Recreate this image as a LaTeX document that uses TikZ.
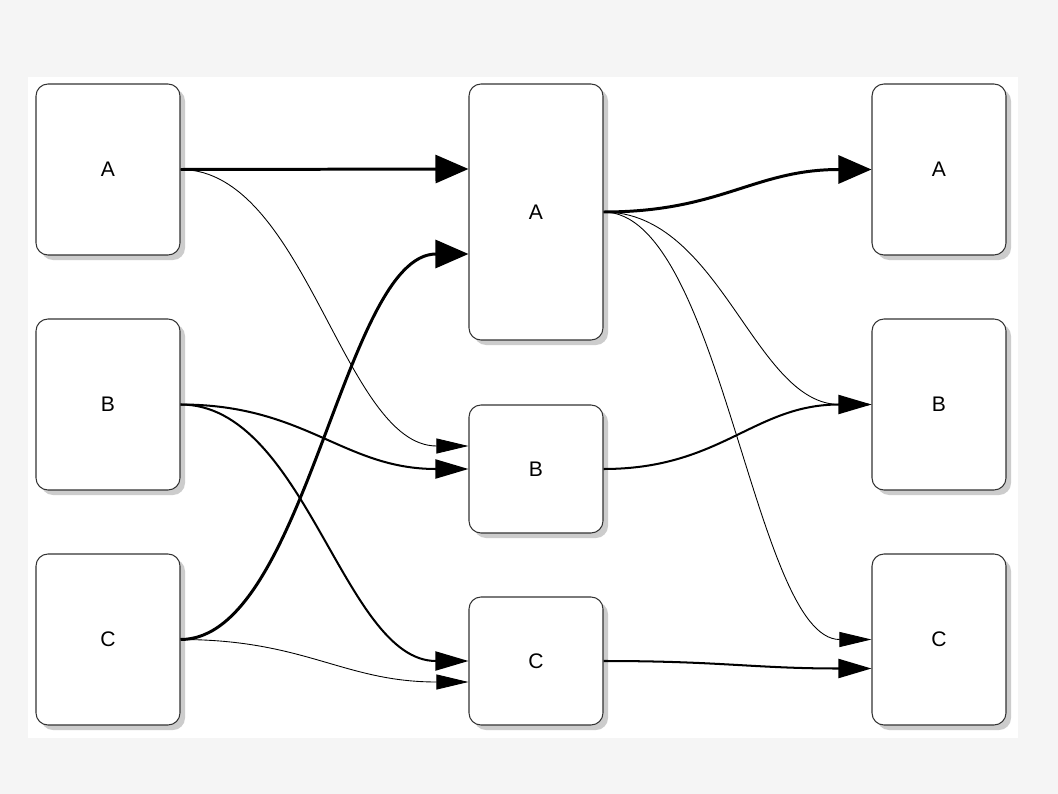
\documentclass[tikz,border=0pt]{standalone}
\usepackage{fontspec}
\setmainfont{Liberation Sans}
\usepackage{tikz}
\usetikzlibrary{arrows.meta, positioning, shadows}
\definecolor{pagegray}{HTML}{F5F5F5}
\definecolor{framegray}{HTML}{333333}

\begin{document}
\begin{tikzpicture}[
  box/.style={draw=framegray, line width=0.6pt, fill=white, rounded corners=0.24cm,
    inner sep=0pt, font=\fontsize{12}{14}\selectfont,
    drop shadow={shadow xshift=0.1cm, shadow yshift=-0.1cm, fill=black!20, opacity=1}},
  heavyflow/.style={line width=1.7pt, -{Triangle[length=0.66cm, width=0.56cm]}},
  midflow/.style={line width=1.15pt, -{Triangle[length=0.66cm, width=0.38cm]}},
  lightflow/.style={line width=0.5pt, -{Triangle[length=0.64cm, width=0.3cm]}}
  ]
  \fill[pagegray] (0,0) rectangle (21.16,-15.88);
  \fill[white] (0.56,-1.54) rectangle (20.36,-14.76);

  % first column
  \node[box, minimum width=2.88cm, minimum height=3.42cm] (lA) at (2.16,-3.39) {A};
  \node[box, minimum width=2.88cm, minimum height=3.42cm] (lB) at (2.16,-8.09) {B};
  \node[box, minimum width=2.88cm, minimum height=3.42cm] (lC) at (2.16,-12.79) {C};

  % second column
  \node[box, minimum width=2.68cm, minimum height=5.12cm] (mA) at (10.72,-4.24) {A};
  \node[box, minimum width=2.68cm, minimum height=2.56cm] (mB) at (10.72,-9.38) {B};
  \node[box, minimum width=2.68cm, minimum height=2.56cm] (mC) at (10.72,-13.22) {C};

  % third column
  \node[box, minimum width=2.68cm, minimum height=3.42cm] (rA) at (18.78,-3.39) {A};
  \node[box, minimum width=2.68cm, minimum height=3.42cm] (rB) at (18.78,-8.09) {B};
  \node[box, minimum width=2.68cm, minimum height=3.42cm] (rC) at (18.78,-12.79) {C};

  \draw[heavyflow] (lA.east) -- ([yshift=0.86cm]mA.west);
  \draw[lightflow] (lA.east) .. controls +(2.5,0) and +(-2.5,0) .. ([yshift=0.46cm]mB.west);
  \draw[midflow] (lB.east) .. controls +(2.5,0) and +(-2.5,0) .. (mB.west);
  \draw[midflow] (lB.east) .. controls +(2.5,0) and +(-2.5,0) .. (mC.west);
  \draw[heavyflow] (lC.east) .. controls +(2.5,0) and +(-2.5,0) .. ([yshift=-0.84cm]mA.west);
  \draw[lightflow] (lC.east) .. controls +(2.5,0) and +(-2.5,0) .. ([yshift=-0.42cm]mC.west);

  \draw[heavyflow] (mA.east) .. controls +(2.35,0) and +(-2.35,0) .. (rA.west);
  \draw[lightflow] (mA.east) .. controls +(2.35,0) and +(-2.35,0) .. (rB.west);
  \draw[lightflow] (mA.east) .. controls +(2.35,0) and +(-2.35,0) .. (rC.west);
  \draw[midflow] (mB.east) .. controls +(2.35,0) and +(-2.35,0) .. (rB.west);
  \draw[midflow] (mC.east) .. controls +(2.35,0) and +(-2.35,0) .. ([yshift=-0.58cm]rC.west);
\end{tikzpicture}
\end{document}
